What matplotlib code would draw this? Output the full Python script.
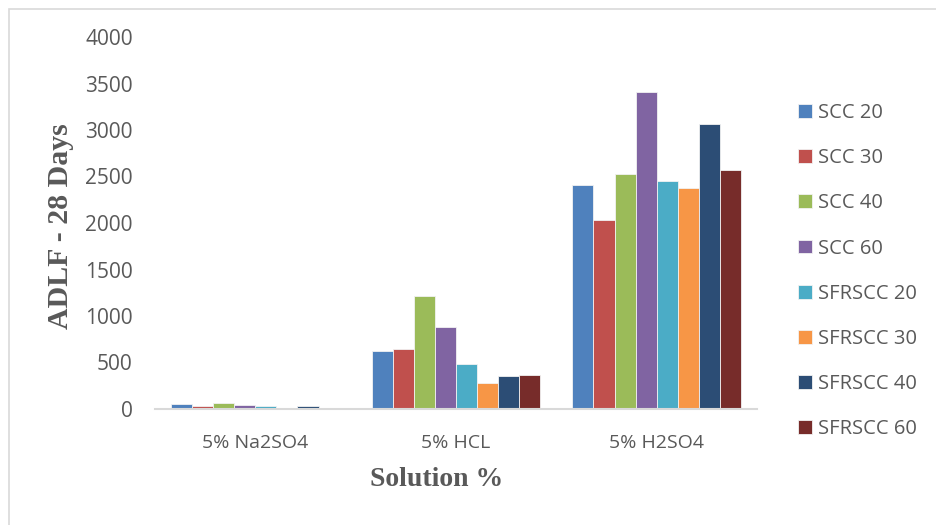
import matplotlib
matplotlib.use("Agg")
import matplotlib.pyplot as plt
import numpy as np
from matplotlib.patches import Rectangle

# Data
categories = ["5% Na2SO4", "5% HCL", "5% H2SO4"]
series_names = ["SCC 20", "SCC 30", "SCC 40", "SCC 60",
                "SFRSCC 20", "SFRSCC 30", "SFRSCC 40", "SFRSCC 60"]
scc20 = [57, 620, 2410]
scc30 = [32, 650, 2030]
scc40 = [65, 1215, 2530]
scc60 = [43, 886, 3410]
sfrscc20 = [35, 484, 2450]
sfrscc30 = [14, 284, 2380]
sfrscc40 = [32, 352, 3060]
sfrscc60 = [11, 370, 2565]
series_values = [scc20, scc30, scc40, scc60, sfrscc20, sfrscc30, sfrscc40, sfrscc60]
colors = ["#4F81BD", "#C0504D", "#9BBB59", "#8064A2",
          "#4BACC6", "#F79646", "#2C4D75", "#772C2A"]
yticks = [0, 500, 1000, 1500, 2000, 2500, 3000, 3500, 4000]

W, H = 936, 525
fig = plt.figure(figsize=(W / 100, H / 100), dpi=100)
fig.patch.set_facecolor("white")

# chart-area border (left and top edges visible)
fig.patches.append(Rectangle((9 / W, -0.1), 2.0, (H - 9) / H + 0.1,
                             transform=fig.transFigure, fill=False,
                             edgecolor="#d9d9d9", linewidth=1.2))

ax = fig.add_axes([155 / W, 116 / H, (757 - 155) / W, (488 - 116) / H])

x = np.arange(len(categories))
n = len(series_names)
bw = 0.84 / n
handles = []
for i, (name, vals, c) in enumerate(zip(series_names, series_values, colors)):
    offs = (i - (n - 1) / 2) * bw
    b = ax.bar(x + offs, vals, width=bw, color=c, edgecolor="#f2f2f2",
               linewidth=0.6, label=name, zorder=2)
    handles.append(b)

ax.set_xlim(-0.5, 2.5)
ax.set_ylim(0, 4000)
ax.set_yticks(yticks)
ax.set_xticks(x)
ax.set_xticklabels(categories)

tick_family = ["Open Sans", "DejaVu Sans"]
for lab in ax.get_yticklabels():
    lab.set_fontfamily(tick_family)
    lab.set_fontsize(15)
    lab.set_color("#595959")
for lab in ax.get_xticklabels():
    lab.set_fontfamily(tick_family)
    lab.set_fontsize(14)
    lab.set_color("#595959")

ax.tick_params(axis="both", length=0)
ax.tick_params(axis="y", pad=16)
ax.tick_params(axis="x", pad=18)

for s in ["top", "right", "left"]:
    ax.spines[s].set_visible(False)
ax.spines["bottom"].set_color("#d9d9d9")
ax.spines["bottom"].set_linewidth(1.5)

# axis titles
fig.text(437 / W, 1 - 480 / H, "Solution %", family=["Liberation Serif"],
         fontweight="bold", fontsize=20, color="#595959", ha="center", va="center")
fig.text(61 / W, 1 - 226 / H, "ADLF - 28 Days", family=["Liberation Serif"],
         fontweight="bold", fontsize=21.5, color="#595959", ha="center", va="center",
         rotation=90)

leg = ax.legend(handles=handles, loc="upper left", bbox_to_anchor=(798 / W, (H - 103) / H),
                bbox_transform=fig.transFigure, frameon=False,
                prop={"family": "Open Sans", "size": 14.5},
                handlelength=0.68, handleheight=0.68, handletextpad=0.3,
                labelspacing=1.25, borderaxespad=0, borderpad=0)
for t in leg.get_texts():
    t.set_color("#595959")

fig.savefig("out.png", dpi=100, facecolor="white")
